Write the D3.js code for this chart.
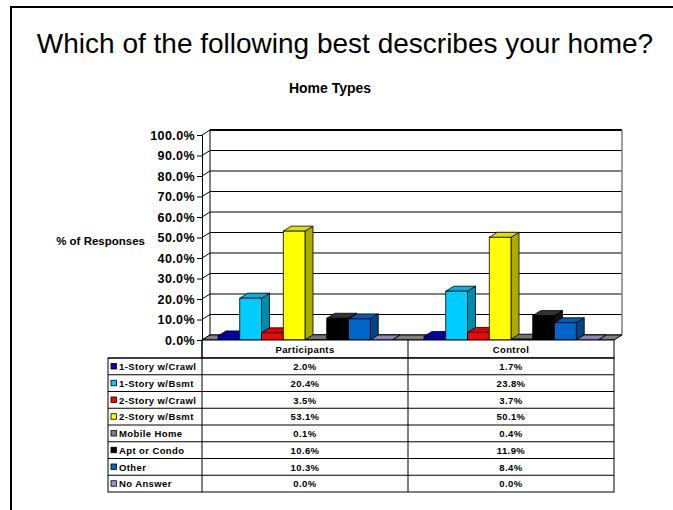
<!DOCTYPE html>
<html>
<head>
<meta charset="utf-8">
<script src="https://cdn.jsdelivr.net/npm/d3@7"></script>
<style>
  html, body { margin: 0; padding: 0; background: #fff; overflow: hidden; }
  svg { display: block; }
  text { font-family: Arial, "Liberation Sans", sans-serif; }
</style>
</head>
<body>
<div id="chart"></div>
<script>
const width = 673;
const height = 510;

// data
const groups = ["Participants", "Control"];
const seriesNames = ["1-Story w/Crawl", "1-Story w/Bsmt", "2-Story w/Crawl", "2-Story w/Bsmt",
    "Mobile Home", "Apt or Condo", "Other", "No Answer"];
const participants = [2.0, 20.4, 3.5, 53.1, 0.1, 10.6, 10.3, 0.0];
const control = [1.7, 23.8, 3.7, 50.1, 0.4, 11.9, 8.4, 0.0];
const seriesColors = ["#0000cc", "#00ccff", "#ff0000", "#ffff00", "#808080", "#000000", "#0066cc", "#9999cc"];
const yTicks = [0, 10, 20, 30, 40, 50, 60, 70, 80, 90, 100];

const values = { Participants: participants, Control: control };

const svg = d3.select("#chart").append("svg")
    .attr("width", width)
    .attr("height", height);

// slide frame: only top and left edges are in view
svg.append("path")
    .attr("d", "M11," + height + " L11,7 L" + width + ",7")
    .style("fill", "none")
    .style("stroke", "black")
    .style("stroke-width", 2);

svg.append("text")
    .attr("x", 345).attr("y", 53)
    .attr("text-anchor", "middle")
    .style("font-size", "28px")
    .text("Which of the following best describes your home?");

svg.append("text")
    .attr("x", 330).attr("y", 93)
    .attr("text-anchor", "middle")
    .style("font-size", "14px")
    .style("font-weight", "bold")
    .text("Home Types");

// plot geometry (front plane) and 3D depth offset
const left = 202, right = 614, floorY = 340, topY = 135;
const dx = 8, dy = -5;

const y = d3.scaleLinear().domain([0, 100]).range([floorY, topY]);
const x0 = d3.scaleBand().domain(groups).range([left, right]);
const x1 = d3.scaleBand().domain(seriesNames)
    .range([16, x0.bandwidth() - 16]);

// back wall
svg.append("rect")
    .attr("x", left + dx).attr("y", topY + dy)
    .attr("width", right - left).attr("height", floorY - topY)
    .style("fill", "white");

// gridlines on back wall + side wall
yTicks.forEach(function(t) {
    svg.append("line")
        .attr("x1", left + dx).attr("x2", right + dx)
        .attr("y1", y(t) + dy).attr("y2", y(t) + dy)
        .style("stroke", "black")
        .style("stroke-width", t === 100 ? 2 : 1);
    svg.append("line")
        .attr("x1", left).attr("x2", left + dx)
        .attr("y1", y(t)).attr("y2", y(t) + dy)
        .style("stroke", "black");
});

// back wall edges
svg.append("line")
    .attr("x1", left + dx).attr("x2", left + dx)
    .attr("y1", topY + dy).attr("y2", floorY + dy)
    .style("stroke", "black");
svg.append("line")
    .attr("x1", right + dx).attr("x2", right + dx)
    .attr("y1", topY + dy).attr("y2", floorY + dy)
    .style("stroke", "#808080")
    .style("stroke-width", 1.5);

// floor
svg.append("polygon")
    .attr("points", [[left, floorY], [left + dx, floorY + dy], [right + dx, floorY + dy], [right, floorY]].join(" "))
    .style("fill", "#808080")
    .style("stroke", "black");

// bars
const bars = svg.append("g").attr("class", "bars");
groups.forEach(function(g) {
    values[g].forEach(function(v, i) {
        const xa = x0(g) + x1(seriesNames[i]);
        const xb = xa + x1.bandwidth();
        const yt = y(v);
        const c = d3.color(seriesColors[i]);
        const topC = i === 5 ? "#333" : c.darker(0.35);
        const sideC = i === 5 ? "#111" : c.darker(1.1);
        bars.append("polygon")
            .attr("points", [[xb, yt], [xb + dx, yt + dy], [xb + dx, floorY + dy], [xb, floorY]].join(" "))
            .style("fill", sideC)
            .style("stroke", "black")
            .style("stroke-width", 0.8);
        bars.append("polygon")
            .attr("points", [[xa, yt], [xa + dx, yt + dy], [xb + dx, yt + dy], [xb, yt]].join(" "))
            .style("fill", topC)
            .style("stroke", "black")
            .style("stroke-width", 0.8);
        bars.append("rect")
            .attr("x", xa).attr("y", yt)
            .attr("width", xb - xa).attr("height", floorY - yt)
            .style("fill", c)
            .style("stroke", "black")
            .style("stroke-width", 0.8);
    });
});

// y axis
const yAxis = d3.axisLeft(y)
    .tickValues(yTicks)
    .tickSize(5)
    .tickPadding(2)
    .tickFormat(d => d3.format(".1f")(d) + "%");

const axisG = svg.append("g")
    .attr("transform", "translate(" + left + ",0)")
    .call(yAxis);
axisG.select(".domain").style("stroke", "black");
axisG.selectAll("text")
    .style("font-size", "12.5px")
    .style("font-weight", "bold")
    .style("letter-spacing", "0.4px")
    .style("font-family", "Arial, 'Liberation Sans', sans-serif")
    .attr("fill", "black");

svg.append("text")
    .attr("x", 145).attr("y", 245)
    .attr("text-anchor", "end")
    .style("font-size", "11.5px")
    .style("font-weight", "bold")
    .text("% of Responses");

// data table
const tableLeft = 108, headTop = floorY, headBottom = 358, rowH = 16.75;
const table = svg.append("g").attr("class", "table");
const tableBottom = headBottom + rowH * seriesNames.length;

table.append("rect")
    .attr("x", left).attr("y", headTop)
    .attr("width", right - left).attr("height", headBottom - headTop)
    .style("fill", "white").style("stroke", "black");
table.append("rect")
    .attr("x", tableLeft).attr("y", headBottom)
    .attr("width", right - tableLeft).attr("height", tableBottom - headBottom)
    .style("fill", "white").style("stroke", "black");

groups.forEach(function(g) {
    table.append("line")
        .attr("x1", x0(g)).attr("x2", x0(g))
        .attr("y1", headTop).attr("y2", tableBottom)
        .style("stroke", "black");
    table.append("text")
        .attr("x", x0(g) + x0.bandwidth() / 2)
        .attr("y", headTop + 12.5)
        .attr("text-anchor", "middle")
        .style("font-size", "9.5px")
        .style("font-weight", "bold")
        .style("letter-spacing", "0.4px")
        .text(g);
});

seriesNames.forEach(function(name, i) {
    const ry = headBottom + i * rowH;
    table.append("line")
        .attr("x1", tableLeft).attr("x2", right)
        .attr("y1", ry).attr("y2", ry)
        .style("stroke", "black");
    table.append("rect")
        .attr("x", 111).attr("y", ry + 5.5)
        .attr("width", 5.5).attr("height", 5.5)
        .style("fill", seriesColors[i])
        .style("stroke", "black")
        .style("stroke-width", 0.8);
    table.append("text")
        .attr("x", 119).attr("y", ry + 12)
        .style("font-size", "9.5px")
        .style("font-weight", "bold")
        .style("letter-spacing", "0.4px")
        .text(name);
    groups.forEach(function(g) {
        table.append("text")
            .attr("x", x0(g) + x0.bandwidth() / 2)
            .attr("y", ry + 12)
            .attr("text-anchor", "middle")
            .style("font-size", "9.5px")
            .style("font-weight", "bold")
            .style("letter-spacing", "0.4px")
            .text(d3.format(".1f")(values[g][i]) + "%");
    });
});
</script>
</body>
</html>
